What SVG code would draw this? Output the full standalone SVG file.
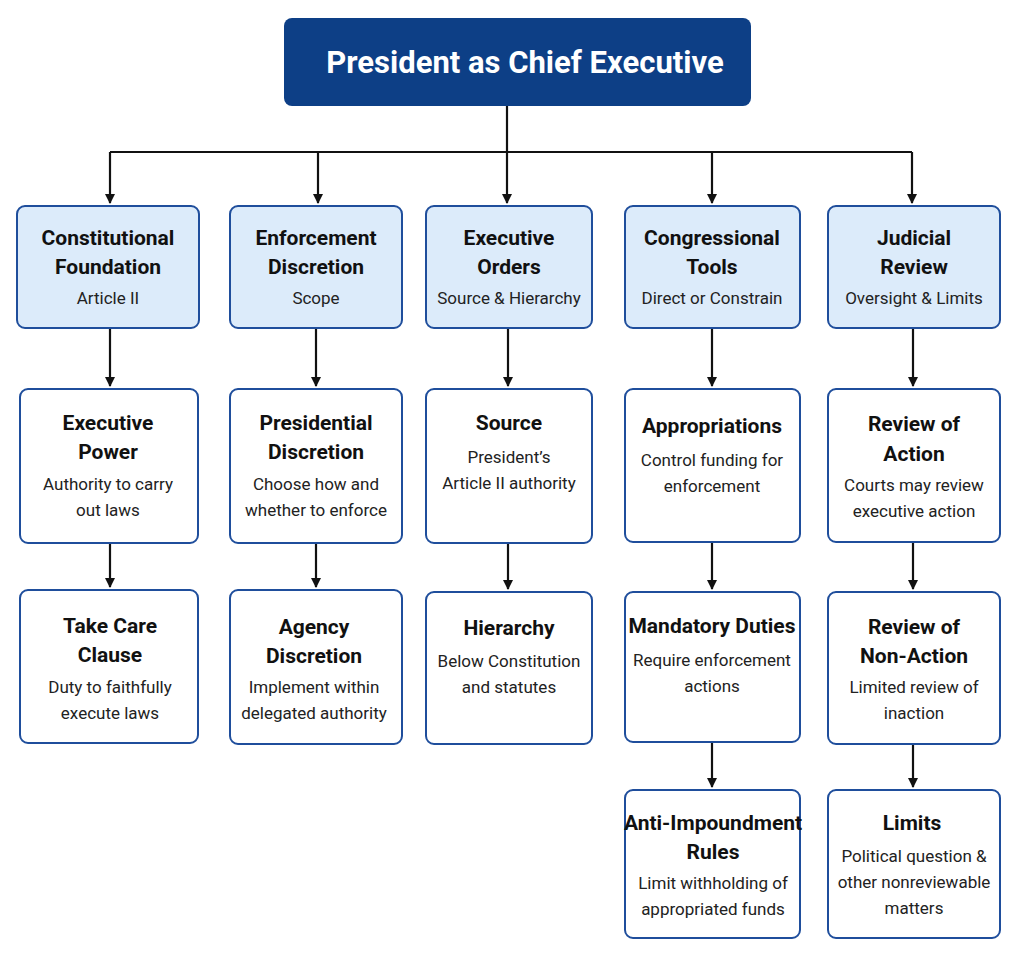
<svg xmlns="http://www.w3.org/2000/svg" width="1018" height="956" viewBox="0 0 1018 956">
<style>
.n{fill:#fff;stroke:#1f4e9c;stroke-width:2}
.h{fill:#dcebfa;stroke:#1f4e9c;stroke-width:2}
.t{font-family:Roboto,"Liberation Sans",sans-serif;font-weight:bold;font-size:21px;fill:#111;text-anchor:middle}
.s{font-family:Roboto,"Liberation Sans",sans-serif;font-size:17px;fill:#222;text-anchor:middle}
.c{fill:none;stroke:#111;stroke-width:2.2}
</style>
<defs><marker id="a" markerWidth="10" markerHeight="10" refX="9" refY="5" orient="auto" markerUnits="userSpaceOnUse"><path d="M0,0 L10,5 L0,10 Z" fill="#111"/></marker></defs>
<rect width="1018" height="956" fill="#fff"/>
<g id="connectors">
<path class="c" d="M507,106 V152"/>
<path class="c" d="M110,152 H912"/>
<path class="c" d="M110,152 V203" marker-end="url(#a)"/>
<path class="c" d="M318,152 V203" marker-end="url(#a)"/>
<path class="c" d="M507,152 V203" marker-end="url(#a)"/>
<path class="c" d="M712,152 V203" marker-end="url(#a)"/>
<path class="c" d="M912,152 V203" marker-end="url(#a)"/>
<path class="c" d="M110,328 V386" marker-end="url(#a)"/>
<path class="c" d="M316,328 V386" marker-end="url(#a)"/>
<path class="c" d="M508,328 V386" marker-end="url(#a)"/>
<path class="c" d="M712,328 V386" marker-end="url(#a)"/>
<path class="c" d="M913,328 V386" marker-end="url(#a)"/>
<path class="c" d="M110,543 V587" marker-end="url(#a)"/>
<path class="c" d="M316,543 V587" marker-end="url(#a)"/>
<path class="c" d="M508,543 V589" marker-end="url(#a)"/>
<path class="c" d="M712,542 V589" marker-end="url(#a)"/>
<path class="c" d="M913,542 V589" marker-end="url(#a)"/>
<path class="c" d="M712,742 V787" marker-end="url(#a)"/>
<path class="c" d="M913,744 V787" marker-end="url(#a)"/>
</g>
<g id="root"><rect x="284" y="18" width="467" height="88" rx="8" fill="#0d3f86"/><text x="525" y="73" font-family="Roboto,'Liberation Sans',sans-serif" font-weight="bold" font-size="31" fill="#fff" text-anchor="middle">President as Chief Executive</text></g>
<g id="cf"><rect class="h" x="17" y="206" width="182" height="122" rx="8"/><text class="t" x="108" y="245">Constitutional</text><text class="t" x="108" y="274">Foundation</text><text class="s" x="108" y="304">Article II</text></g>
<g id="ed"><rect class="h" x="230" y="206" width="172" height="122" rx="8"/><text class="t" x="316" y="245">Enforcement</text><text class="t" x="316" y="274">Discretion</text><text class="s" x="316" y="304">Scope</text></g>
<g id="eo"><rect class="h" x="426" y="206" width="166" height="122" rx="8"/><text class="t" x="509" y="245">Executive</text><text class="t" x="509" y="274">Orders</text><text class="s" x="509" y="304">Source &amp; Hierarchy</text></g>
<g id="ct"><rect class="h" x="625" y="206" width="175" height="122" rx="8"/><text class="t" x="712" y="245">Congressional</text><text class="t" x="712" y="274">Tools</text><text class="s" x="712" y="304">Direct or Constrain</text></g>
<g id="jr"><rect class="h" x="828" y="206" width="172" height="122" rx="8"/><text class="t" x="914" y="245">Judicial</text><text class="t" x="914" y="274">Review</text><text class="s" x="914" y="304">Oversight &amp; Limits</text></g>
<g id="ep"><rect class="n" x="20" y="389" width="178" height="154" rx="8"/><text class="t" x="108" y="430">Executive</text><text class="t" x="108" y="459">Power</text><text class="s" x="108" y="490">Authority to carry</text><text class="s" x="108" y="516">out laws</text></g>
<g id="pd"><rect class="n" x="230" y="389" width="172" height="154" rx="8"/><text class="t" x="316" y="430">Presidential</text><text class="t" x="316" y="459">Discretion</text><text class="s" x="316" y="490">Choose how and</text><text class="s" x="316" y="516">whether to enforce</text></g>
<g id="src"><rect class="n" x="426" y="389" width="166" height="154" rx="8"/><text class="t" x="509" y="430">Source</text><text class="s" x="509" y="463">President’s</text><text class="s" x="509" y="489">Article II authority</text></g>
<g id="ap"><rect class="n" x="625" y="389" width="175" height="153" rx="8"/><text class="t" x="712" y="433">Appropriations</text><text class="s" x="712" y="466">Control funding for</text><text class="s" x="712" y="492">enforcement</text></g>
<g id="ra"><rect class="n" x="828" y="389" width="172" height="153" rx="8"/><text class="t" x="914" y="431">Review of</text><text class="t" x="914" y="461">Action</text><text class="s" x="914" y="491">Courts may review</text><text class="s" x="914" y="517">executive action</text></g>
<g id="tc"><rect class="n" x="20" y="590" width="178" height="153" rx="8"/><text class="t" x="110" y="633">Take Care</text><text class="t" x="110" y="662">Clause</text><text class="s" x="110" y="693">Duty to faithfully</text><text class="s" x="110" y="719">execute laws</text></g>
<g id="ad"><rect class="n" x="230" y="590" width="172" height="154" rx="8"/><text class="t" x="314" y="634">Agency</text><text class="t" x="314" y="663">Discretion</text><text class="s" x="314" y="693">Implement within</text><text class="s" x="314" y="719">delegated authority</text></g>
<g id="hi"><rect class="n" x="426" y="592" width="166" height="152" rx="8"/><text class="t" x="509" y="635">Hierarchy</text><text class="s" x="509" y="667">Below Constitution</text><text class="s" x="509" y="693">and statutes</text></g>
<g id="md"><rect class="n" x="625" y="592" width="175" height="150" rx="8"/><text class="t" x="712" y="633">Mandatory Duties</text><text class="s" x="712" y="666">Require enforcement</text><text class="s" x="712" y="692">actions</text></g>
<g id="rn"><rect class="n" x="828" y="592" width="172" height="152" rx="8"/><text class="t" x="914" y="634">Review of</text><text class="t" x="914" y="663">Non-Action</text><text class="s" x="914" y="693">Limited review of</text><text class="s" x="914" y="719">inaction</text></g>
<g id="ai"><rect class="n" x="625" y="790" width="175" height="148" rx="8"/><text class="t" x="713" y="830">Anti-Impoundment</text><text class="t" x="713" y="859">Rules</text><text class="s" x="713" y="889">Limit withholding of</text><text class="s" x="713" y="915">appropriated funds</text></g>
<g id="li"><rect class="n" x="828" y="790" width="172" height="148" rx="8"/><text class="t" x="912" y="830">Limits</text><text class="s" x="914" y="862">Political question &amp;</text><text class="s" x="914" y="888">other nonreviewable</text><text class="s" x="914" y="914">matters</text></g>
</svg>
